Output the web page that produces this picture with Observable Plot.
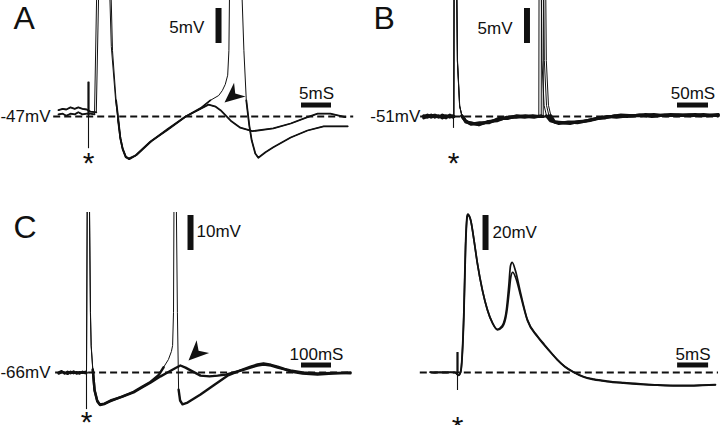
<!DOCTYPE html>
<html><head><meta charset="utf-8">
<script src="https://cdn.jsdelivr.net/npm/d3@7"></script>
<script src="https://cdn.jsdelivr.net/npm/@observablehq/plot@0.6"></script>
<style>
html,body{margin:0;padding:0;background:#fff;overflow:hidden}
#fig{position:relative;width:720px;height:425px;background:#fff;overflow:hidden}
#fig svg{position:absolute}
</style></head>
<body><div id="fig"></div>
<script>
// ---------- DATA (time in ms after stimulus, membrane potential in mV) ----------
const panelLetters = ["A", "B", "C", ""];
const restPotentials = [-47, -51, -66, null];   // labelled resting potentials (D unlabelled)
const baselineValues = [-47, -51, -66, 0];       // dashed reference lines (D relative to rest)
const voltBars = [5, 5, 10, 20];                 // mV scale bars
const timeBars = [5, 50, 100, 5];                // ms scale bars
const stimTimes = [0, 0, 0, 0];

const traceA1 = [[-5.0,-46.1],[-4.3,-45.9],[-3.7,-46.0],[-3.0,-45.7],[-2.3,-45.9],[-1.7,-45.7],[-1.0,-45.9],[-0.3,-46.0],[0.3,-46.3],[1.3,-46.4],[2.6,10],[4.0,-37.6],[4.6,-44.7],[5.0,-47.6],[5.3,-50.1],[5.7,-51.6],[6.2,-52.7],[6.7,-53.0],[7.8,-52.6],[10.3,-50.6],[13.2,-48.9],[16.2,-47.0],[18.7,-45.9],[20.0,-45.3],[21.2,-45.6],[22.0,-46.1],[23.7,-47.6],[25.3,-48.6],[27.3,-49.1],[30.8,-48.7],[33.7,-48.0],[36.5,-47.1],[38.2,-46.6],[40.3,-46.6],[42.8,-47.1]];
const traceA2 = [[-5.0,-46.7],[-4.3,-46.6],[-3.7,-46.9],[-3.0,-46.6],[-2.3,-46.7],[-1.7,-46.4],[-1.0,-46.7],[-0.3,-46.6],[0.3,-46.6],[1.0,-46.7],[2.2,10],[3.8,-37.0],[4.5,-44.5],[4.9,-47.4],[5.3,-50.0],[5.7,-51.7],[6.2,-52.8],[6.8,-53.1],[8.0,-52.5],[10.5,-50.5],[13.2,-48.8],[16.2,-47.0],[18.7,-45.8],[20.3,-44.7],[21.7,-44.0],[22.3,-43.3],[22.8,-42.4],[23.2,-41.1],[23.4,-37.6],[24.0,10],[25.9,-37.6],[26.3,-44.7],[26.8,-48.3],[27.2,-50.4],[27.8,-52.3],[28.3,-52.9],[29.5,-52.1],[30.8,-51.4],[33.7,-50.0],[36.5,-49.0],[39.2,-48.4],[43.2,-48.4]];

const traceB1 = [[-48,-51.0],[-42,-50.8],[-36,-51.1],[-30,-50.9],[-24,-51.1],[-18,-50.8],[-12,-51.0],[-6,-50.9],[-1,-51.1],[0.5,-51.0],[1.6,0],[6.2,-43.0],[9.8,-49.4],[13.5,-50.9],[19.4,-51.6],[27,-52.0],[40,-52.1],[55,-51.8],[70,-51.5],[85,-51.2],[100,-51.0],[115,-51.1],[128,-50.9],[137.6,-51.0],[138.6,0],[142.6,-43.0],[146.1,-49.4],[150,-50.9],[156,-51.6],[165,-51.8],[180,-51.9],[195,-51.8],[210,-51.7],[225,-51.4],[240,-51.1],[255,-51.0],[270,-50.8],[290,-50.9],[310,-50.7],[330,-50.9],[350,-50.7],[370,-50.8],[390,-50.7],[410,-50.9],[427,-50.7]];
const traceB2 = [[-48,-51.2],[-42,-51.0],[-36,-50.8],[-30,-51.1],[-24,-50.9],[-18,-51.2],[-12,-50.9],[-6,-51.1],[-1,-50.9],[0.5,-51.0],[1.8,0],[6.5,-43.0],[10.1,-49.6],[13.8,-51.0],[20,-51.7],[28,-52.1],[42,-51.9],[57,-51.9],[72,-51.3],[87,-51.3],[102,-50.9],[117,-51.0],[130,-51.1],[141.5,-50.9],[142.5,0],[146.5,-43.0],[150,-49.4],[154,-50.9],[160,-51.7],[170,-52.0],[185,-51.8],[200,-51.9],[215,-51.6],[230,-51.3],[245,-51.2],[260,-50.9],[280,-51.0],[300,-50.8],[320,-51.0],[340,-50.8],[360,-50.9],[380,-50.8],[400,-50.9],[427,-50.8]];
const traceB3 = [[-48,-50.9],[-42,-51.1],[-36,-50.9],[-30,-50.8],[-24,-51.0],[-18,-51.0],[-12,-51.2],[-6,-50.8],[-1,-51.0],[0.5,-51.0],[1.7,0],[6.3,-43.0],[9.9,-49.5],[13.6,-50.9],[19.7,-51.8],[28,-51.9],[41,-52.2],[56,-51.7],[71,-51.6],[86,-51.1],[101,-51.1],[116,-50.9],[130,-51.0],[144.7,-51.0],[145.7,0],[149.7,-43.0],[153.2,-49.4],[157.1,-50.9],[163,-51.8],[173,-51.9],[188,-52.0],[203,-51.7],[218,-51.6],[233,-51.3],[248,-51.0],[263,-51.1],[283,-50.9],[303,-50.9],[323,-50.7],[343,-50.9],[363,-50.8],[383,-50.9],[403,-50.7],[427,-50.9]];

const traceC1 = [[-93,-66.0],[-83,-65.6],[-73,-66.3],[-63,-65.8],[-53,-66.2],[-43,-65.7],[-33,-66.3],[-23,-65.9],[-13,-66.1],[-4,-65.8],[0,-66.0],[5,30],[13.3,-48.9],[15.7,-58.3],[21,-65.1],[26.7,-70.9],[35.7,-74.0],[44.3,-75.1],[60,-74.9],[80,-74.0],[120,-72.9],[157,-71.7],[185,-70.3],[213,-68.9],[247,-67.1],[270,-66.0],[297,-64.7],[313,-64.0],[330,-64.6],[347,-65.4],[380,-66.9],[410,-67.1],[437,-66.9],[465,-66.6],[490,-66.0],[520,-65.3],[547,-64.6],[570,-64.0],[590,-63.7],[615,-64.0],[637,-64.6],[660,-65.1],[680,-65.7],[720,-66.3],[770,-66.6],[820,-66.3],[880,-66.0]];
const traceC2 = [[-93,-66.3],[-83,-65.9],[-73,-66.0],[-63,-66.4],[-53,-65.8],[-43,-66.2],[-33,-65.9],[-23,-66.3],[-13,-65.8],[-4,-66.2],[0,-66.1],[4.5,30],[13,-48.9],[15.5,-58.5],[21,-65.3],[27,-71.2],[36,-74.3],[45,-75.3],[60,-75.0],[80,-74.2],[120,-72.8],[157,-71.5],[185,-70.1],[213,-68.7],[240,-66.8],[257,-64.5],[273,-62.3],[283,-60.0],[287,-58.3],[290,-48.9],[294,30],[303,-48.9],[307,-70.9],[312,-74.0],[320,-75.1],[337,-74.6],[380,-72.3],[423,-69.7],[470,-66.9],[513,-65.4],[547,-64.3],[570,-63.7],[590,-63.4],[615,-63.8],[637,-64.3],[660,-65.0],[680,-65.4],[720,-66.0],[770,-66.3],[820,-66.1],[880,-66.2]];

const traceD1 = [[-4.4,0.3],[-3.6,-0.2],[-2.8,0.3],[-2.0,-0.1],[-1.2,0.2],[-0.4,0.0],[0.16,-1.7],[0.48,0.0],[1.02,34.3],[1.29,72.6],[1.56,89.7],[1.66,90.5],[2.10,87.6],[2.63,76.2],[3.18,62.9],[3.98,47.6],[4.79,36.2],[5.60,28.6],[6.40,24.7],[7.21,26.7],[7.90,36.2],[8.27,49.5],[8.55,61.0],[8.82,62.9],[9.35,58.1],[10.16,45.7],[11.24,30.5],[12.85,21.0],[14.0,16.0],[15.2,11.0],[16.1,7.4],[17.3,3.5],[18.8,0.2],[20.3,-2.3],[22.0,-3.8],[24.1,-4.9],[26.8,-5.8],[29.5,-6.5],[32.2,-7.1],[34.8,-7.4],[37.5,-7.4],[39.5,-7.2],[41.6,-6.9]];
const traceD2 = [[-4.4,0.0],[-3.6,0.2],[-2.8,-0.1],[-2.0,0.2],[-1.2,0.0],[-0.4,0.1],[0.16,-1.5],[0.5,0.0],[1.04,33.5],[1.31,71.5],[1.58,89.0],[1.70,89.8],[2.15,86.6],[2.70,74.8],[3.25,61.5],[4.05,46.5],[4.85,35.5],[5.65,28.2],[6.45,24.4],[7.25,26.0],[7.95,34.5],[8.35,46.5],[8.62,55.0],[8.9,57.3],[9.4,54.0],[10.2,43.5],[11.3,29.5],[12.9,20.4],[14.0,15.6],[15.2,10.7],[16.1,7.2],[17.3,3.3],[18.8,0.0],[20.3,-2.6],[22.0,-4.1],[24.1,-5.2],[26.8,-6.1],[29.5,-6.8],[32.2,-7.3],[34.8,-7.6],[37.5,-7.6],[39.5,-7.4],[41.6,-7.1]];

const panelTraces = [[traceA1, traceA2], [traceB1, traceB2, traceB3], [traceC1, traceC2], [traceD1, traceD2]];

// ---------- LAYOUT (positions of annotations in data units, panel geometry in px) ----------
const layouts = [
  {left:0, top:0, w:360, h:212, x0px:88, pxPerX:6, y0px:116, pxPerY:7, dash:[-5.8,44.2],
   art:{v1:-42.1, v2:-51.6, vThick:-46.9}, vbar:{t:21.67, top:-31.57}, vbarLabel:{t:19.3, v:-34.36, anchor:"end"},
   hbar:{t1:35.5, v:-45.36}, hbarLabel:{t:38, v:-43.71}, restLabel:{t:-6.33}, letter:{t:-12.5, v:-33.1},
   starV:-52.57, arrow:{t:22.67, v:-45.0, angle:140}, thr:-44.5, thinW:1, thickW:1.8},
  {left:360, top:0, w:360, h:212, x0px:93, pxPerX:0.62, y0px:116, pxPerY:7, dash:[-53,428],
   art:{v1:-51, v2:-52.7, vThick:null}, vbar:{t:118.5, top:-35.57}, vbarLabel:{t:95.2, v:-38.43, anchor:"end"},
   hbar:{t1:361.3, v:-49.36}, hbarLabel:{t:386.3, v:-47.71}, restLabel:{t:-53.5}, letter:{t:-129, v:-37.1},
   starV:-56.57, arrow:null, thr:-50.3, thinW:1, thickW:3},
  {left:0, top:212, w:360, h:213, x0px:86, pxPerX:0.3, y0px:160, pxPerY:3.5, dash:[-103,887],
   art:{v1:-66, v2:-76.6, vThick:null}, vbar:{t:346.7, top:-21.14}, vbarLabel:{t:366.7, v:-25.71, anchor:"start"},
   hbar:{t1:716.7, v:-63.86}, hbarLabel:{t:766.7, v:-60.86}, restLabel:{t:-120}, letter:{t:-243.3, v:-24.57},
   starV:-78.0, arrow:{t:340, v:-62.57, angle:136}, thr:-62.5, thinW:1, thickW:2.4},
  {left:360, top:212, w:360, h:213, x0px:97, pxPerX:6.2, y0px:160, pxPerY:1.75, dash:[-6,42.1],
   art:{v1:11.4, v2:-10.3, vThick:0}, vbar:{t:4.52, top:89.7}, vbarLabel:{t:5.65, v:80, anchor:"start"},
   hbar:{t1:35.5, v:4.3}, hbarLabel:{t:38, v:10.29}, restLabel:null, letter:null,
   starV:-26.6, arrow:null, thr:null, thinW:1.7, thickW:1.7}
];

const INK = "#111";
const FONT = "'Liberation Sans', Arial, Helvetica, sans-serif";

function arrowSymbol(angleDeg) {
  const a = angleDeg * Math.PI / 180, c = Math.cos(a), s = Math.sin(a);
  const pts = [[0,0],[-20,-9],[-14,0],[-20,9]];
  return {draw(ctx) {
    pts.forEach(([x,y], k) => { const X = x*c - y*s, Y = x*s + y*c; k ? ctx.lineTo(X,Y) : ctx.moveTo(X,Y); });
    ctx.closePath();
  }};
}

function buildPanel(i, L) {
  const base = baselineValues[i];
  const stim = stimTimes[i];
  const xDom = [stim - L.x0px / L.pxPerX, stim + (L.w - L.x0px) / L.pxPerX];
  const yDom = [base - (L.h - L.y0px) / L.pxPerY, base + L.y0px / L.pxPerY];
  const marks = [];
  marks.push(Plot.ruleY([{v: base, t1: L.dash[0], t2: L.dash[1]}],
    {y: "v", x1: "t1", x2: "t2", stroke: INK, strokeWidth: 1.8, strokeDasharray: "7,4"}));
  marks.push(Plot.ruleX([{t: stim, v1: L.art.v1, v2: L.art.v2}], {x: "t", y1: "v1", y2: "v2", stroke: INK, strokeWidth: 1.1}));
  if (L.art.vThick != null)
    marks.push(Plot.ruleX([{t: stim, v1: L.art.v1, v2: L.art.vThick}], {x: "t", y1: "v1", y2: "v2", stroke: INK, strokeWidth: 2.2}));
  for (const tr of panelTraces[i]) {
    marks.push(Plot.line(tr, {x: d => d[0], y: d => d[1], stroke: INK, strokeWidth: L.thinW, clip: true,
      curve: i === 3 ? "monotone-x" : "linear"}));
    if (L.thr != null)
      marks.push(Plot.line(tr, {x: d => d[0], y: d => (d[1] < L.thr ? d[1] : NaN), stroke: INK,
        strokeWidth: L.thickW, clip: true}));
  }
  marks.push(Plot.ruleX([{t: L.vbar.t, v1: L.vbar.top, v2: L.vbar.top - voltBars[i]}],
    {x: "t", y1: "v1", y2: "v2", stroke: INK, strokeWidth: 6}));
  marks.push(Plot.ruleY([{v: L.hbar.v, t1: L.hbar.t1, t2: L.hbar.t1 + timeBars[i]}],
    {y: "v", x1: "t1", x2: "t2", stroke: INK, strokeWidth: 5}));
  marks.push(Plot.text([{t: L.vbarLabel.t, v: L.vbarLabel.v, s: voltBars[i] + "mV"}],
    {x: "t", y: "v", text: "s", textAnchor: L.vbarLabel.anchor, lineAnchor: "middle", fontSize: 17, fill: INK}));
  marks.push(Plot.text([{t: L.hbarLabel.t, v: L.hbarLabel.v, s: timeBars[i] + "mS"}],
    {x: "t", y: "v", text: "s", textAnchor: "middle", lineAnchor: "middle", fontSize: 17, fill: INK}));
  if (L.restLabel && restPotentials[i] != null)
    marks.push(Plot.text([{t: L.restLabel.t, v: base, s: restPotentials[i] + "mV"}],
      {x: "t", y: "v", text: "s", textAnchor: "end", lineAnchor: "middle", fontSize: 17, fill: INK}));
  if (L.letter && panelLetters[i])
    marks.push(Plot.text([{t: L.letter.t, v: L.letter.v, s: panelLetters[i]}],
      {x: "t", y: "v", text: "s", textAnchor: "start", lineAnchor: "middle", fontSize: 32, fill: INK}));
  marks.push(Plot.text([{t: stim, v: L.starV, s: "*"}],
    {x: "t", y: "v", text: "s", textAnchor: "middle", lineAnchor: "middle", fontSize: 30, dy: 8, fill: INK}));
  if (L.arrow)
    marks.push(Plot.dot([{t: L.arrow.t, v: L.arrow.v}],
      {x: "t", y: "v", symbol: arrowSymbol(L.arrow.angle), r: 10, fill: INK, stroke: "none"}));

  const svg = Plot.plot({
    width: L.w, height: L.h, margin: 0,
    x: {domain: xDom, axis: null},
    y: {domain: yDom, axis: null},
    style: {background: "transparent", fontFamily: FONT, color: INK, overflow: "visible"},
    marks
  });
  svg.style.left = L.left + "px";
  svg.style.top = L.top + "px";
  return svg;
}

const fig = document.getElementById("fig");
layouts.forEach((L, i) => fig.appendChild(buildPanel(i, L)));
</script>
</body></html>
